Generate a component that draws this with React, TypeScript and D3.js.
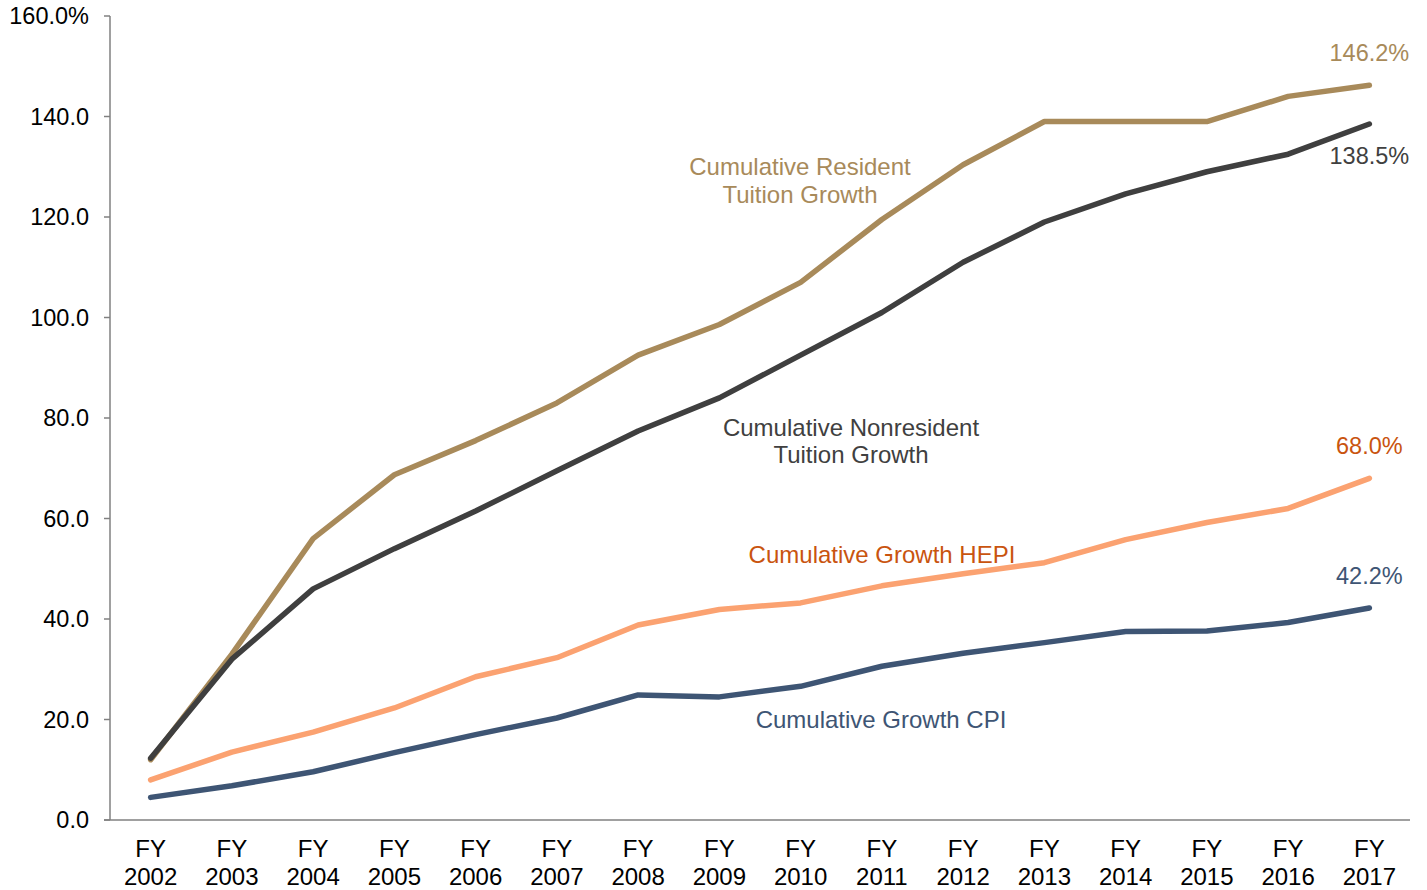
import React from 'react';
import * as d3 from 'd3';

const years = ['2002','2003','2004','2005','2006','2007','2008','2009','2010','2011','2012','2013','2014','2015','2016','2017'];
const residentValues = [12, 33, 56, 68.7, 75.5, 83, 92.5, 98.6, 107, 119.5, 130.4, 139, 139, 139, 144, 146.2];
const nonresidentValues = [12.3, 32, 46, 54, 61.5, 69.5, 77.4, 84, 92.5, 101, 111, 119, 124.6, 129, 132.5, 138.5];
const hepiValues = [8, 13.5, 17.5, 22.3, 28.5, 32.3, 38.8, 41.9, 43.2, 46.6, 49, 51.2, 55.8, 59.2, 62, 68];
const cpiValues = [4.5, 6.8, 9.6, 13.4, 17, 20.3, 24.9, 24.5, 26.6, 30.6, 33.2, 35.3, 37.5, 37.6, 39.3, 42.2];
const yTicks = [0, 20, 40, 60, 80, 100, 120, 140, 160];

const series = [
  { name: 'resident', values: residentValues, color: '#A88A5A', labelColor: '#A88A5A', end: '146.2%' },
  { name: 'nonresident', values: nonresidentValues, color: '#3F3F3F', labelColor: '#404040', end: '138.5%' },
  { name: 'hepi', values: hepiValues, color: '#FBA271', labelColor: '#C9540F', end: '68.0%' },
  { name: 'cpi', values: cpiValues, color: '#3E5574', labelColor: '#3E5574', end: '42.2%' },
];

const App: React.FC = () => {
  const width = 1427;
  const height = 890;
  const left = 110;
  const right = 1410;
  const top = 16;
  const bottom = 820;

  const x = d3.scaleBand<string>().domain(years).range([left, right]);
  const y = d3.scaleLinear().domain([0, 160]).range([bottom, top]);
  const cx = (yr: string) => (x(yr) ?? 0) + x.bandwidth() / 2;

  const line = d3
    .line<number>()
    .x((_, i) => cx(years[i]))
    .y((d) => y(d));

  const font = '"Liberation Sans", Arial, sans-serif';
  const lastX = cx(years[years.length - 1]);

  return (
    <svg width={width} height={height} style={{ position: 'absolute', left: 0, top: 0 }} fontFamily={font}>
      {/* y axis */}
      <line x1={left} x2={left} y1={top} y2={bottom} stroke="#808080" strokeWidth={1.5} />
      {yTicks.map((t) => (
        <g key={t}>
          <line x1={left - 6} x2={left} y1={y(t)} y2={y(t)} stroke="#808080" strokeWidth={1.5} />
          <text x={89} y={y(t)} dy="0.35em" textAnchor="end" fontSize={23.5} fill="#000">
            {t === 160 ? '160.0%' : t.toFixed(1)}
          </text>
        </g>
      ))}
      {/* x axis */}
      <line x1={left - 6} x2={right} y1={bottom} y2={bottom} stroke="#808080" strokeWidth={1.5} />
      {years.map((yr) => (
        <text key={yr} x={cx(yr)} textAnchor="middle" fontSize={24} fill="#000">
          <tspan x={cx(yr)} y={857}>FY</tspan>
          <tspan x={cx(yr)} y={885}>{yr}</tspan>
        </text>
      ))}
      {/* lines */}
      {series.map((s) => (
        <path key={s.name} d={line(s.values) ?? ''} fill="none" stroke={s.color} strokeWidth={5.5} strokeLinecap="round" strokeLinejoin="round" />
      ))}
      {/* end labels */}
      {series.map((s) => {
        const v = s.values[s.values.length - 1];
        const below = s.name === 'nonresident';
        return (
          <text key={s.name + '-end'} x={lastX} y={below ? y(v) + 40 : y(v) - 24} textAnchor="middle" fontSize={23.5} fill={s.labelColor}>
            {s.end}
          </text>
        );
      })}
      {/* series labels */}
      <text textAnchor="middle" fontSize={24} fill="#A88A5A">
        <tspan x={800} y={175}>Cumulative Resident</tspan>
        <tspan x={800} y={203}>Tuition Growth</tspan>
      </text>
      <text textAnchor="middle" fontSize={24} fill="#404040">
        <tspan x={851} y={436}>Cumulative Nonresident</tspan>
        <tspan x={851} y={463}>Tuition Growth</tspan>
      </text>
      <text x={882} y={563} textAnchor="middle" fontSize={24} fill="#C9540F">Cumulative Growth HEPI</text>
      <text x={881} y={728} textAnchor="middle" fontSize={24} fill="#3E5574">Cumulative Growth CPI</text>
    </svg>
  );
};

export default App;
